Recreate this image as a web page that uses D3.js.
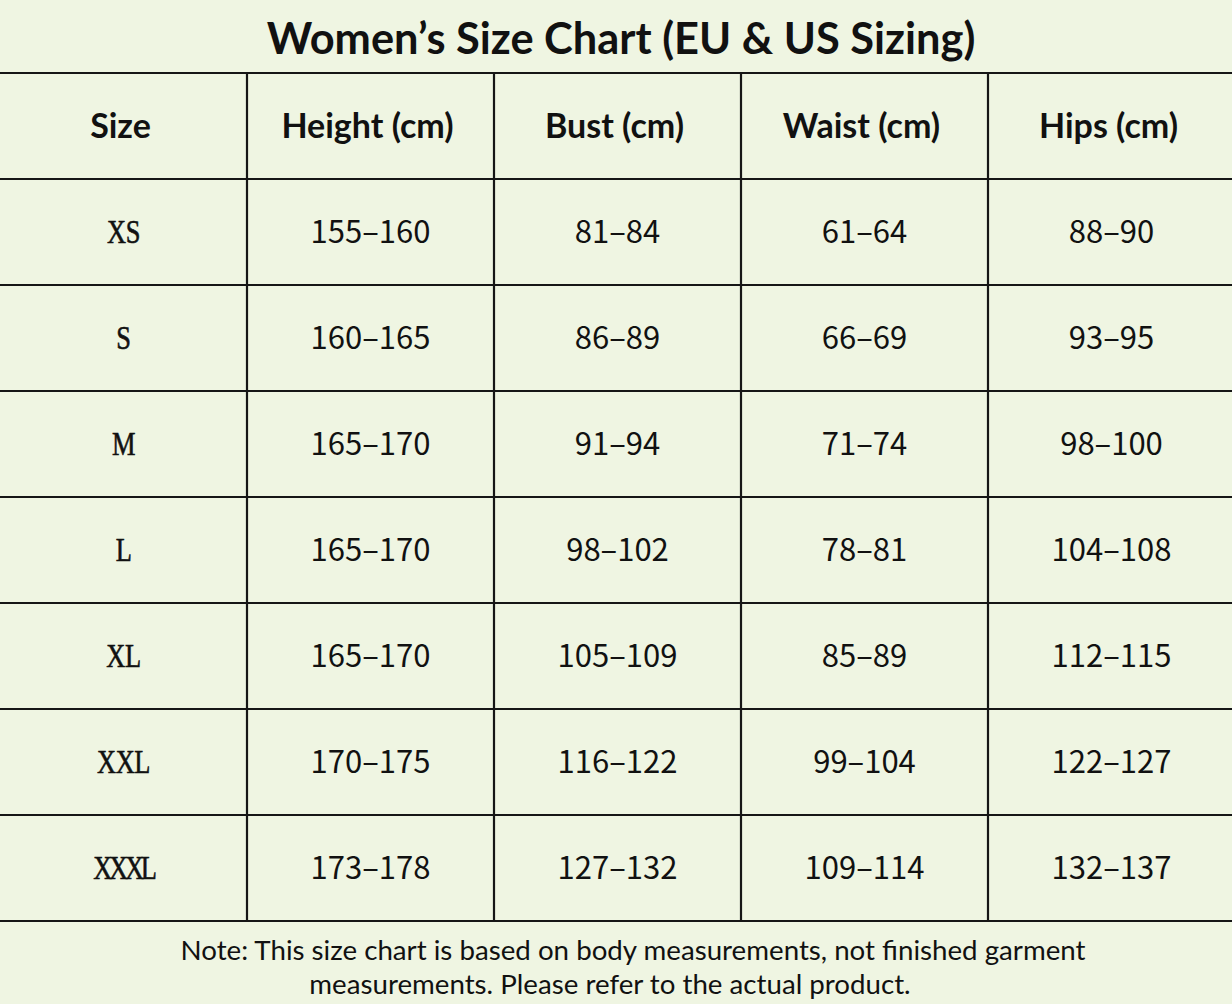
<!DOCTYPE html>
<html>
<head>
<meta charset="utf-8">
<script src="https://cdn.jsdelivr.net/npm/d3@7"></script>
<style>
  html, body { margin: 0; padding: 0; background: #eff5e2; }
  svg { display: block; }
</style>
</head>
<body>
<div id="chart"></div>
<script>
// table data
var title = "Women\u2019s Size Chart (EU & US Sizing)";
var columns = ["Size", "Height (cm)", "Bust (cm)", "Waist (cm)", "Hips (cm)"];
var sizes = ["XS", "S", "M", "L", "XL", "XXL", "XXXL"];
var heights = ["155\u2013160", "160\u2013165", "165\u2013170", "165\u2013170", "165\u2013170", "170\u2013175", "173\u2013178"];
var bust = ["81\u201384", "86\u201389", "91\u201394", "98\u2013102", "105\u2013109", "116\u2013122", "127\u2013132"];
var waist = ["61\u201364", "66\u201369", "71\u201374", "78\u201381", "85\u201389", "99\u2013104", "109\u2013114"];
var hips = ["88\u201390", "93\u201395", "98\u2013100", "104\u2013108", "112\u2013115", "122\u2013127", "132\u2013137"];
var noteLines = [
  "Note: This size chart is based on body measurements, not finished garment",
  "measurements. Please refer to the actual product."
];

var width = 1232, height = 1004;

var svg = d3.select("#chart")
    .append("svg")
    .attr("width", width)
    .attr("height", height);

svg.append("rect")
    .attr("width", width)
    .attr("height", height)
    .attr("fill", "#eff5e2");

// scales for the grid
var rowKeys = ["header"].concat(sizes);
var xScale = d3.scaleBand().domain(columns).range([0, 1235]);
var yScale = d3.scaleBand().domain(rowKeys).range([73, 921]);

// title
svg.append("text")
    .attr("x", 621)
    .attr("y", 54)
    .attr("text-anchor", "middle")
    .style("font-family", "Lato, 'Noto Sans', sans-serif")
    .style("font-weight", "bold")
    .style("font-size", "43.4px")
    .attr("fill", "#111")
    .text(title);

// horizontal lines
var hLines = rowKeys.map(function(r) { return yScale(r); }).concat([yScale.range()[1]]);
svg.selectAll("line.h")
    .data(hLines)
    .enter().append("line")
        .attr("class", "h")
        .attr("x1", 0)
        .attr("x2", width)
        .attr("y1", function(d) { return d; })
        .attr("y2", function(d) { return d; })
        .attr("stroke", "#161616")
        .attr("stroke-width", 2.2);

// vertical lines between columns
svg.selectAll("line.v")
    .data(columns.slice(1))
    .enter().append("line")
        .attr("class", "v")
        .attr("x1", function(d) { return xScale(d); })
        .attr("x2", function(d) { return xScale(d); })
        .attr("y1", yScale.range()[0])
        .attr("y2", yScale.range()[1])
        .attr("stroke", "#161616")
        .attr("stroke-width", 2.2);

// header row
svg.selectAll("text.head")
    .data(columns)
    .enter().append("text")
        .attr("class", "head")
        .attr("x", function(d) { return xScale(d) + xScale.bandwidth() / 2 - 3; })
        .attr("y", yScale("header") + yScale.bandwidth() / 2)
        .attr("dy", "0.36em")
        .attr("text-anchor", "middle")
        .style("font-family", "Lato, 'Noto Sans', sans-serif")
        .style("font-weight", "bold")
        .style("font-size", "34px")
        .attr("fill", "#111")
        .text(function(d) { return d; });

// body rows
var rows = sizes.map(function(s, i) {
  return [s, heights[i], bust[i], waist[i], hips[i]];
});

var rowG = svg.selectAll("g.row")
    .data(rows)
    .enter().append("g")
        .attr("class", "row")
        .attr("transform", function(d, i) {
          return "translate(0," + (yScale(sizes[i]) + yScale.bandwidth() / 2) + ")";
        });

// size labels: narrow serif letters
rowG.append("text")
    .attr("transform", function(d) {
      return "translate(" + (xScale(columns[0]) + xScale.bandwidth() / 2) + ",0) scale(0.8,1)";
    })
    .attr("dy", "0.33em")
    .attr("text-anchor", "middle")
    .style("font-family", "'Liberation Serif', 'DejaVu Serif', serif")
    .style("font-size", "33px")
    .style("letter-spacing", function(d) { return d[0].length > 3 ? "-4px" : "-0.5px"; })
    .attr("fill", "#111")
    .attr("stroke", "#111")
    .attr("stroke-width", 0.6)
    .text(function(d) { return d[0]; });

// measurement cells
rowG.selectAll("text.val")
    .data(function(d) { return d.slice(1); })
    .enter().append("text")
        .attr("class", "val")
        .attr("x", function(d, j) { return xScale(columns[j + 1]) + xScale.bandwidth() / 2; })
        .attr("dy", "0.36em")
        .attr("text-anchor", "middle")
        .style("font-family", "'Noto Sans CJK SC', 'Noto Sans', sans-serif")
        .style("font-size", "31px")
        .attr("fill", "#111")
        .text(function(d) { return d; });

// note under the table
svg.selectAll("text.note")
    .data(noteLines)
    .enter().append("text")
        .attr("class", "note")
        .attr("x", function(d, i) { return i == 0 ? 633 : 610; })
        .attr("y", function(d, i) { return 960 + i * 34; })
        .attr("text-anchor", "middle")
        .style("font-family", "Lato, 'Noto Sans', sans-serif")
        .style("font-size", "27.7px")
        .attr("fill", "#111")
        .text(function(d) { return d; });
</script>
</body>
</html>
